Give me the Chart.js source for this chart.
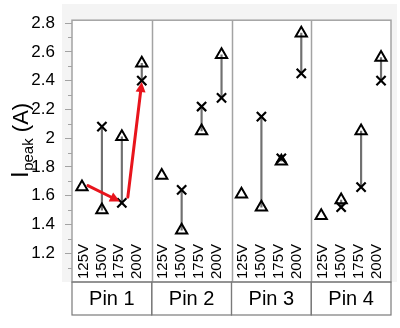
<!DOCTYPE html>
<html><head><meta charset="utf-8">
<script src="https://cdn.jsdelivr.net/npm/chart.js@4/dist/chart.umd.min.js"></script>
<style>html,body{margin:0;padding:0;background:#fff}#wrap{width:400px;height:328px}</style>
</head><body><div id="wrap"><canvas id="c" width="400" height="328"></canvas></div>
<script>
const pins = ['Pin 1', 'Pin 2', 'Pin 3', 'Pin 4'];
const voltages = ['125V', '150V', '175V', '200V'];
const triangleValues = [1.66, 1.50, 2.01, 2.52, 1.74, 1.36, 2.05, 2.58, 1.61, 1.52, 1.84, 2.73, 1.46, 1.57, 2.05, 2.56];
const crossValues = [null, 2.08, 1.55, 2.40, null, 1.64, 2.22, 2.28, null, 2.15, 1.86, 2.45, null, 1.52, 1.66, 2.40];
const yTicks = [1.2, 1.4, 1.6, 1.8, 2.0, 2.2, 2.4, 2.6, 2.8];
const yMinorTicks = [1.1, 1.3, 1.5, 1.7, 1.9, 2.1, 2.3, 2.5, 2.7];
const arrowStart = [[0.3, 1.67], [2.3, 1.59]];
const arrowEnd = [[1.9, 1.56], [3.0, 2.39]];

const labels = [];
pins.forEach(() => voltages.forEach(v => labels.push(v)));
const connectors = triangleValues.map((t, i) => crossValues[i] == null ? null : [Math.min(t, crossValues[i]), Math.max(t, crossValues[i])]);

const FONT = '"Liberation Sans", Arial, sans-serif';
const GRAY = '#a3a3a3';

const decor = {
  id: 'decor',
  beforeDraw(chart) {
    const {ctx, chartArea: a} = chart;
    ctx.save();
    ctx.fillStyle = '#f4f4f4';
    ctx.fillRect(62, 4, 335, a.bottom - 4);
    ctx.fillStyle = '#fff';
    ctx.fillRect(a.left, a.top, a.right - a.left, a.bottom - a.top);
    ctx.restore();
  },
  beforeDatasetsDraw(chart) {
    const {ctx, chartArea: a, scales: {x, y}} = chart;
    ctx.save();
    // panel dividers
    ctx.strokeStyle = GRAY; ctx.lineWidth = 1.5;
    for (let k = 1; k < pins.length; k++) {
      const px = Math.round(x.getPixelForValue(k * voltages.length - 0.5)) + 0.5;
      ctx.beginPath(); ctx.moveTo(px, a.top); ctx.lineTo(px, a.bottom); ctx.stroke();
    }
    ctx.strokeRect(a.left, a.top, a.right - a.left, a.bottom - a.top);
    // minor ticks
    ctx.lineWidth = 1;
    yMinorTicks.forEach(v => {
      const py = Math.round(y.getPixelForValue(v)) + 0.5;
      ctx.beginPath(); ctx.moveTo(a.left - 4, py); ctx.lineTo(a.left, py); ctx.stroke();
    });
    // category labels (packed slightly tighter than the data columns, as in the original)
    ctx.fillStyle = '#000';
    ctx.font = '15px ' + FONT;
    ctx.textAlign = 'left'; ctx.textBaseline = 'middle';
    labels.forEach((lab, i) => {
      const k = Math.floor(i / voltages.length), j = i % voltages.length;
      ctx.save();
      ctx.translate(x.getPixelForValue(k * voltages.length + j * 0.9 + 0.05) + 0.5, a.bottom - 3);
      ctx.rotate(-Math.PI / 2);
      ctx.fillText(lab, 0, 0);
      ctx.restore();
    });
    // pin boxes
    const boxTop = a.bottom, boxBot = a.bottom + 33;
    ctx.strokeStyle = '#7a7a7a'; ctx.lineWidth = 1.2;
    ctx.font = '20px ' + FONT; ctx.textAlign = 'center';
    pins.forEach((p, k) => {
      const l = x.getPixelForValue(k * voltages.length - 0.5);
      const r = x.getPixelForValue((k + 1) * voltages.length - 0.5);
      ctx.strokeRect(l, boxTop, r - l, boxBot - boxTop);
      ctx.fillText(p, (l + r) / 2, (boxTop + boxBot) / 2 + 1);
    });
    // y title
    ctx.save();
    ctx.translate(28, 178);
    ctx.rotate(-Math.PI / 2);
    ctx.textAlign = 'left'; ctx.textBaseline = 'alphabetic';
    ctx.font = '24px ' + FONT;
    ctx.fillText('I', 0, 0);
    let w = ctx.measureText('I').width + 0.5;
    ctx.font = '15px ' + FONT;
    ctx.fillText('peak', w, 5);
    w += ctx.measureText('peak').width;
    ctx.font = '22px ' + FONT;
    ctx.fillText(' (A)', w, 0);
    ctx.restore();
    ctx.restore();
  },
  afterDatasetsDraw(chart) {
    const {ctx, scales: {x, y}} = chart;
    ctx.save();
    ctx.strokeStyle = '#e8141c'; ctx.fillStyle = '#e8141c';
    ctx.lineWidth = 3; ctx.lineCap = 'round';
    arrowStart.forEach((s, i) => {
      const e = arrowEnd[i];
      const x0 = x.getPixelForValue(s[0]), y0 = y.getPixelForValue(s[1]);
      const x1 = x.getPixelForValue(e[0]), y1 = y.getPixelForValue(e[1]);
      const ang = Math.atan2(y1 - y0, x1 - x0);
      const hl = 10, hw = 5;
      const bx = x1 - hl * Math.cos(ang), by = y1 - hl * Math.sin(ang);
      ctx.beginPath(); ctx.moveTo(x0, y0); ctx.lineTo(bx, by); ctx.stroke();
      ctx.beginPath();
      ctx.moveTo(x1, y1);
      ctx.lineTo(bx + hw * Math.sin(ang), by - hw * Math.cos(ang));
      ctx.lineTo(bx - hw * Math.sin(ang), by + hw * Math.cos(ang));
      ctx.closePath(); ctx.fill();
    });
    ctx.restore();
  }
};

new Chart(document.getElementById('c'), {
  type: 'bar',
  data: {
    labels,
    datasets: [
      {type: 'line', label: 'triangle', data: triangleValues, showLine: false,
       pointStyle: 'triangle', pointRadius: 6.5, pointBorderWidth: 2,
       borderColor: '#000', backgroundColor: 'rgba(255,255,255,0)', order: 1},
      {type: 'line', label: 'cross', data: crossValues, showLine: false,
       pointStyle: 'crossRot', pointRadius: 6.5, pointBorderWidth: 2.2,
       borderColor: '#000', backgroundColor: '#000', order: 2},
      {type: 'bar', label: 'range', data: connectors, barThickness: 1.5,
       backgroundColor: '#707070', borderWidth: 0, order: 3}
    ]
  },
  options: {
    responsive: false, animation: false, maintainAspectRatio: false,
    layout: {padding: {left: 0, right: 9, top: 14, bottom: 46}},
    plugins: {legend: {display: false}, tooltip: {enabled: false}},
    scales: {
      x: {type: 'category', offset: true, display: false},
      y: {
        min: 1.0, max: 2.82,
        afterBuildTicks: s => { s.ticks = yTicks.map(v => ({value: v})); },
        afterFit: s => { s.width = 72; },
        ticks: {font: {family: FONT, size: 17}, color: '#000', padding: 10,
                callback: v => String(Math.round(v * 10) / 10)},
        grid: {drawOnChartArea: false, tickLength: 7, tickColor: GRAY, tickWidth: 1},
        border: {display: false}
      }
    }
  },
  plugins: [decor]
});
</script></body></html>
